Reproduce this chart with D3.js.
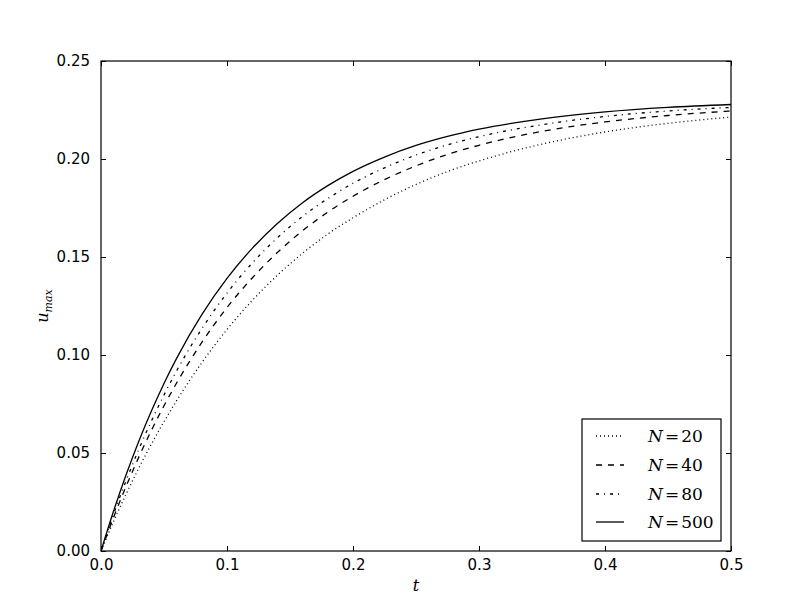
<!DOCTYPE html>
<html><head><meta charset="utf-8">
<script src="https://cdn.jsdelivr.net/npm/d3@7"></script>
<style>body{margin:0;background:#fff}</style>
</head><body>
<svg id="chart" width="812" height="612"></svg>
<script>
const tValues = [0,0.01,0.02,0.03,0.04,0.05,0.06,0.08,0.10,0.12,0.14,0.16,0.18,0.20,0.225,0.25,0.275,0.30,0.35,0.40,0.45,0.50];
const uN20  = [0,0.0151,0.0291,0.0423,0.0545,0.0660,0.0767,0.0961,0.1130,0.1278,0.1407,0.1519,0.1617,0.1700,0.1792,0.1870,0.1936,0.1990,0.2076,0.2138,0.2182,0.2214];
const uN40  = [0,0.0172,0.0331,0.0479,0.0615,0.0741,0.0857,0.1064,0.1242,0.1393,0.1523,0.1634,0.1729,0.1810,0.1895,0.1965,0.2023,0.2070,0.2141,0.2189,0.2222,0.2245];
const uN80  = [0,0.0188,0.0360,0.0518,0.0663,0.0796,0.0919,0.1134,0.1316,0.1469,0.1598,0.1707,0.1798,0.1876,0.1955,0.2020,0.2072,0.2114,0.2175,0.2217,0.2245,0.2263];
const uN500 = [0,0.0204,0.0390,0.0560,0.0714,0.0855,0.0983,0.1206,0.1391,0.1544,0.1671,0.1777,0.1864,0.1937,0.2010,0.2069,0.2115,0.2152,0.2205,0.2240,0.2263,0.2278];
const seriesLabels = ["20","40","80","500"];
const seriesDash = ["1,3","6,6","3,5,1,5",null];
const xTicks = [0,0.1,0.2,0.3,0.4,0.5];
const yTicks = [0,0.05,0.10,0.15,0.20,0.25];

const seriesData = [uN20,uN40,uN80,uN500];
const svg = d3.select("#chart");
const L=101, R=731, T=61, B=551;
const x = d3.scaleLinear().domain([0,0.5]).range([L,R]);
const y = d3.scaleLinear().domain([0,0.25]).range([B,T]);
const tickFont = "DejaVu Sans, sans-serif";

// curves
const line = d3.line().x((d,i)=>x(tValues[i])).y(d=>y(d)).curve(d3.curveMonotoneX);
svg.append("defs").append("clipPath").attr("id","clip").append("rect")
  .attr("x",L).attr("y",T).attr("width",R-L).attr("height",B-T);
seriesData.forEach((s,k)=>{
  svg.append("path").datum(s).attr("d",line).attr("fill","none")
    .attr("stroke","#000").attr("stroke-width",1.3)
    .attr("stroke-dasharray",seriesDash[k])
    .attr("clip-path","url(#clip)");
});

// axes with inward ticks on all sides
const axB = d3.axisBottom(x).tickValues(xTicks).tickFormat(d3.format(".1f")).tickSizeInner(-5).tickSizeOuter(0).tickPadding(8);
const axT = d3.axisTop(x).tickValues(xTicks).tickFormat("").tickSizeInner(-5).tickSizeOuter(0);
const axLft = d3.axisLeft(y).tickValues(yTicks).tickFormat(d3.format(".2f")).tickSizeInner(-5).tickSizeOuter(0).tickPadding(11);
const axRt = d3.axisRight(y).tickValues(yTicks).tickFormat("").tickSizeInner(-5).tickSizeOuter(0);
function style(g){
  g.select(".domain").remove();
  g.selectAll(".tick line").attr("stroke","#000").attr("stroke-width",1);
  g.selectAll(".tick text").attr("fill","#000").style("font-family",tickFont).style("font-size","15px");
}
svg.append("g").attr("transform",`translate(0,${B})`).call(axB).call(style);
svg.append("g").attr("transform",`translate(0,${T})`).call(axT).call(style);
svg.append("g").attr("transform",`translate(${L},0)`).call(axLft).call(style);
svg.append("g").attr("transform",`translate(${R},0)`).call(axRt).call(style);

svg.append("rect").attr("x",L).attr("y",T).attr("width",R-L).attr("height",B-T)
  .attr("fill","none").attr("stroke","#000").attr("stroke-width",1.2);

// axis labels
svg.append("text").attr("x",(L+R)/2).attr("y",591).attr("text-anchor","middle")
  .style("font-family","DejaVu Serif, serif").style("font-style","italic").style("font-size","16px").text("t");
const yl = svg.append("text").attr("transform",`translate(48,${(T+B)/2}) rotate(-90)`).attr("text-anchor","middle")
  .style("font-family","DejaVu Serif, serif").style("font-style","italic").style("font-size","16px");
yl.append("tspan").text("u");
yl.append("tspan").attr("dy",4).style("font-size","11px").text("max");

// legend
const lg = svg.append("g");
lg.append("rect").attr("x",582).attr("y",419).attr("width",139).attr("height",122)
  .attr("fill","#fff").attr("stroke","#000").attr("stroke-width",1.2);
const rowY = [436,465,494,522];
seriesLabels.forEach((lab,k)=>{
  lg.append("line").attr("x1",596).attr("x2",624).attr("y1",rowY[k]).attr("y2",rowY[k])
    .attr("stroke","#000").attr("stroke-width",1.3).attr("stroke-dasharray",seriesDash[k]);
  const t = lg.append("text").attr("x",648).attr("y",rowY[k]+6)
    .style("font-family","DejaVu Serif, serif").style("font-size","17px");
  t.append("tspan").style("font-style","italic").text("N");
  t.append("tspan").attr("dx",2).text("=");
  t.append("tspan").attr("dx",2).text(lab);
});
</script>
</body></html>
